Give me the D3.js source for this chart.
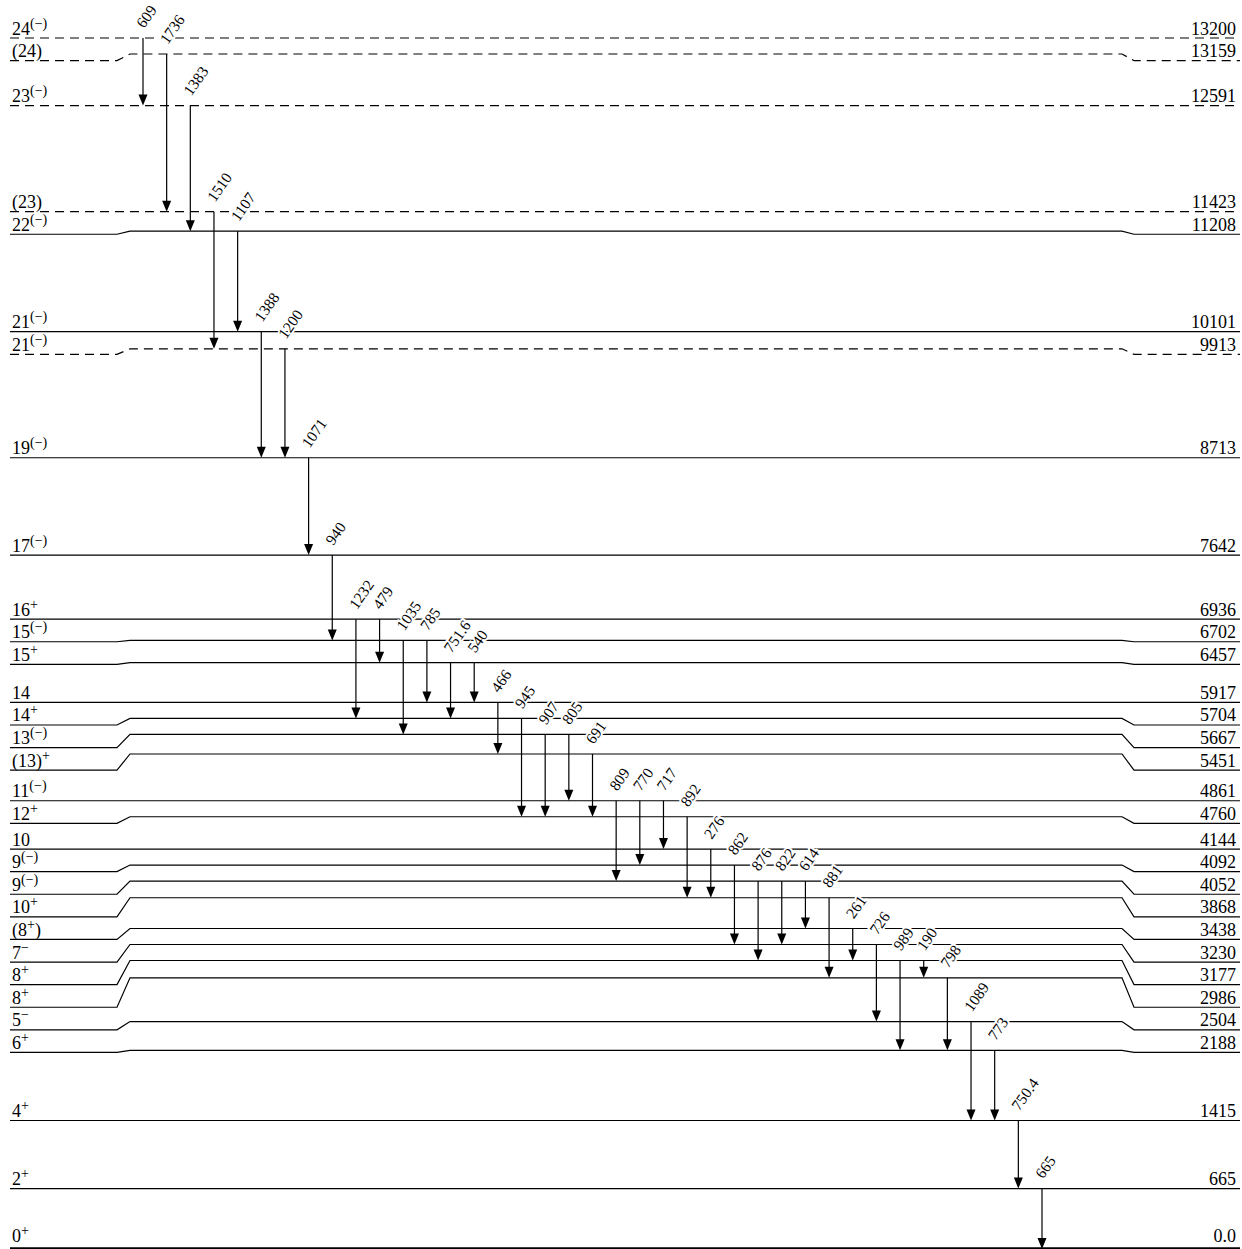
<!DOCTYPE html>
<html>
<head>
<meta charset="utf-8">
<script src="https://cdn.jsdelivr.net/npm/d3@7"></script>
<style>
  html, body { margin: 0; padding: 0; background: #fff; }
  svg { display: block; }
  text { font-family: "Liberation Serif", "Times New Roman", serif; fill: #000; }
</style>
</head>
<body>
<div id="vis"></div>
<script>
// levels, top to bottom (keV)
var levelEnergies = [13200, 13159, 12591, 11423, 11208, 10101, 9913, 8713, 7642, 6936, 6702, 6457,
  5917, 5704, 5667, 5451, 4861, 4760, 4144, 4092, 4052, 3868, 3438, 3230, 3177, 2986, 2504, 2188,
  1415, 665, 0];
var levelSpins = ['24^{(−)}', '(24)', '23^{(−)}', '(23)', '22^{(−)}', '21^{(−)}', '21^{(−)}', '19^{(−)}',
  '17^{(−)}', '16^{+}', '15^{(−)}', '15^{+}', '14', '14^{+}', '13^{(−)}', '(13)^{+}', '11^{(−)}', '12^{+}',
  '10', '9^{(−)}', '9^{(−)}', '10^{+}', '(8^{+})', '7^{−}', '8^{+}', '8^{+}', '5^{−}', '6^{+}', '4^{+}',
  '2^{+}', '0^{+}'];
var levelTentative = [13200, 13159, 12591, 11423, 9913];

// gamma transitions, left to right
var gammaLabels = ['609', '1736', '1383', '1510', '1107', '1388', '1200', '1071', '940', '1232', '479',
  '1035', '785', '751.6', '540', '466', '945', '907', '805', '691', '809', '770', '717', '892', '276',
  '862', '876', '822', '614', '881', '261', '726', '989', '190', '798', '1089', '773', '750.4', '665'];
var gammaFrom = [13200, 13159, 12591, 11423, 11208, 10101, 9913, 8713, 7642, 6936, 6936,
  6702, 6702, 6457, 6457, 5917, 5704, 5667, 5667, 5451, 4861, 4861, 4861, 4760, 4144,
  4092, 4052, 4052, 4052, 3868, 3438, 3230, 3177, 3177, 2986, 2504, 2188, 1415, 665];
var gammaTo = [12591, 11423, 11208, 9913, 10101, 8713, 8713, 7642, 6702, 5704, 6457,
  5667, 5917, 5704, 5917, 5451, 4760, 4760, 4861, 4760, 4052, 4092, 4144, 3868, 3868,
  3230, 3177, 3230, 3438, 2986, 3177, 2504, 2188, 2986, 2188, 1415, 1415, 665, 0];

var width = 1242;
var height = 1249;

var lineGap = 16;     // minimum spacing of level lines
var labelGap = 22.6;  // minimum spacing of level labels

var y = d3.scaleLinear().domain([0, 13200]).range([1249, 50.3]);
var x = d3.scalePoint().domain(d3.range(gammaLabels.length)).range([143, 1042]);

var svg = d3.select('#vis').append('svg')
  .attr('width', width)
  .attr('height', height);

svg.append('rect').attr('width', width).attr('height', height).attr('fill', '#fff');

var levels = levelEnergies.map(function (e, i) {
  return { energy: e, spin: levelSpins[i], dashed: levelTentative.indexOf(e) >= 0, yLin: y(e) };
});

// push level lines apart from the bottom up
var up = levels.slice().sort(function (a, b) { return a.energy - b.energy; });
up.forEach(function (d, i) {
  d.ym = i === 0 ? d.yLin : Math.min(d.yLin, up[i - 1].ym - lineGap);
});
// push label ends apart from the top down
var down = up.slice().reverse();
down.forEach(function (d, i) {
  d.yl = i === 0 ? d.ym : Math.max(d.ym, down[i - 1].yl + labelGap);
});

var levelY = {};
levels.forEach(function (d) { levelY[d.energy] = d.ym; });

function levelPath(d) {
  if (Math.abs(d.yl - d.ym) < 0.5) return 'M10,' + d.ym + 'H1240';
  return 'M10,' + d.yl + 'H117L130,' + d.ym + 'H1122L1134,' + d.yl + 'H1240';
}

function textBase(d) {
  return d.yl - (d.energy === 0 ? 7 : 3.5);
}

svg.selectAll('.level')
  .data(levels)
  .enter().append('path')
  .attr('class', 'level')
  .attr('d', levelPath)
  .attr('fill', 'none')
  .attr('stroke', '#000')
  .attr('stroke-width', function (d) { return d.energy === 0 ? 3.5 : 1.2; })
  .attr('stroke-dasharray', function (d) { return d.dashed ? '9,6' : null; });

// spin labels on the left
var spinText = svg.selectAll('.spin')
  .data(levels)
  .enter().append('text')
  .attr('class', 'spin')
  .attr('x', 12)
  .attr('y', textBase)
  .attr('font-size', 18);

spinText.each(function (d) {
  var t = d3.select(this);
  var parts = d.spin.split(/\^\{([^}]*)\}/);
  var raised = false;
  parts.forEach(function (p, i) {
    if (p === '') return;
    var sup = i % 2 === 1;
    var ts = t.append('tspan').text(p);
    if (sup) {
      ts.attr('font-size', 14).attr('dy', -7);
      raised = true;
    } else if (raised) {
      ts.attr('dy', 7);
      raised = false;
    }
  });
});

// energies on the right
svg.selectAll('.energy')
  .data(levels)
  .enter().append('text')
  .attr('class', 'energy')
  .attr('x', 1236)
  .attr('y', textBase)
  .attr('text-anchor', 'end')
  .attr('font-size', 18)
  .text(function (d) { return d.energy === 0 ? '0.0' : d.energy; });

// transitions
var gammas = gammaLabels.map(function (g, i) {
  return { label: g, x: x(i), y1: levelY[gammaFrom[i]], y2: levelY[gammaTo[i]] };
});

var arrows = svg.selectAll('.gamma')
  .data(gammas)
  .enter().append('g')
  .attr('class', 'gamma');

arrows.append('line')
  .attr('x1', function (d) { return d.x; })
  .attr('x2', function (d) { return d.x; })
  .attr('y1', function (d) { return d.y1; })
  .attr('y2', function (d) { return d.y2 - 8; })
  .attr('stroke', '#000')
  .attr('stroke-width', 1.2);

arrows.append('path')
  .attr('d', function (d) {
    return 'M' + (d.x - 4.5) + ',' + (d.y2 - 11) + 'L' + (d.x + 4.5) + ',' + (d.y2 - 11) +
      'L' + d.x + ',' + d.y2 + 'Z';
  })
  .attr('fill', '#000');

svg.selectAll('.glabel')
  .data(gammas)
  .enter().append('text')
  .attr('class', 'glabel')
  .attr('transform', function (d) {
    return 'translate(' + (d.x + 1) + ',' + (d.y1 - 9) + ') rotate(-55)';
  })
  .attr('font-size', 15.5)
  .attr('stroke', '#fff')
  .attr('stroke-width', 4)
  .attr('paint-order', 'stroke')
  .text(function (d) { return d.label; });
</script>
</body>
</html>
